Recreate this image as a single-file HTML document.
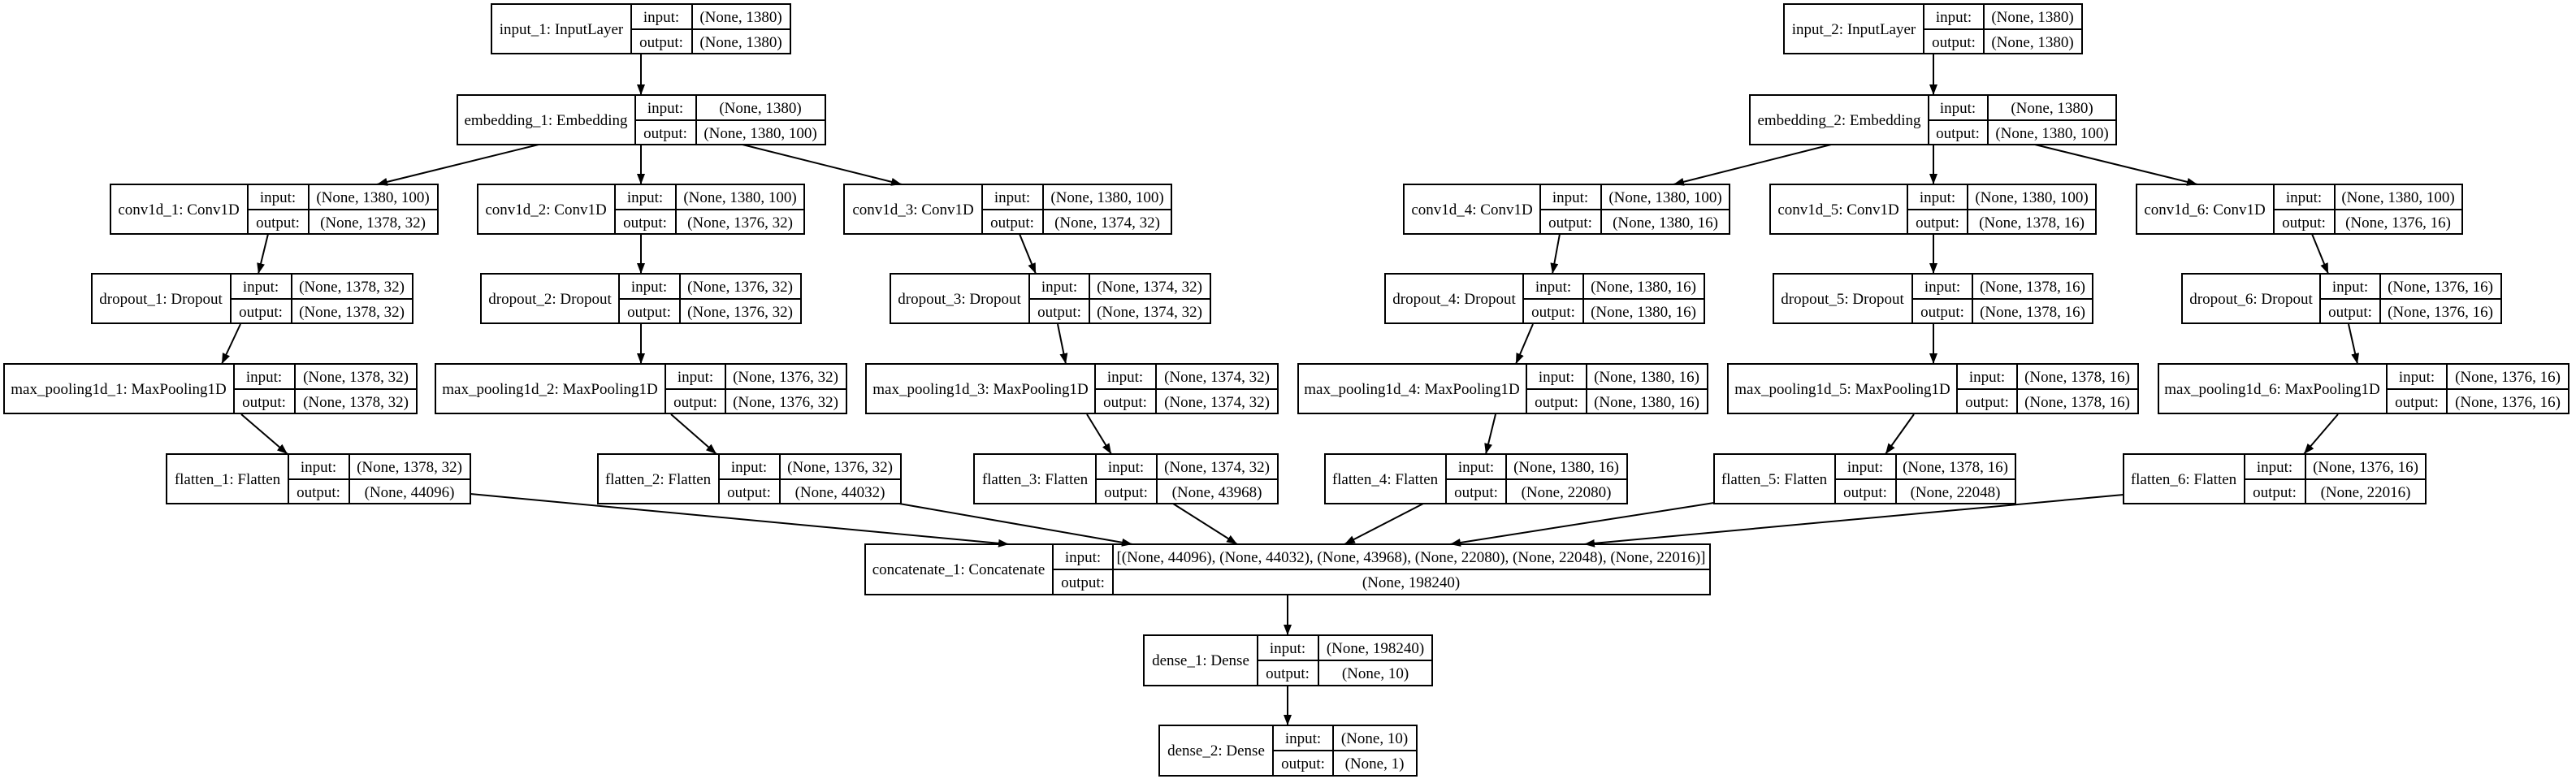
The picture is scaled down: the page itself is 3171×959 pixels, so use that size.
<!DOCTYPE html>
<html><head><meta charset="utf-8"><style>
html,body{margin:0;padding:0;background:#fff;}
svg{display:block;}
svg text{font-family:"Liberation Serif","DejaVu Serif",serif !important;font-size:19px;fill:#000;text-anchor:middle;}
.b{fill:none;stroke:#000;stroke-width:2;}
.e{stroke:#000;stroke-width:2;fill:none;marker-end:url(#a);}
</style></head><body>
<svg width="3171" height="959" viewBox="0 0 3171 959" xmlns="http://www.w3.org/2000/svg" font-family="Liberation Serif, DejaVu Serif, serif" font-size="19">
<defs><marker id="a" markerUnits="userSpaceOnUse" markerWidth="14" markerHeight="12" refX="13" refY="5" orient="auto"><path d="M0,0 L13,5 L0,10 Z" fill="#000"/></marker></defs>

<!-- edges -->
<line class="e" x1="789" y1="67" x2="789" y2="117"/>
<line class="e" x1="663" y1="178" x2="464" y2="227"/>
<line class="e" x1="789" y1="178" x2="789" y2="227"/>
<line class="e" x1="914" y1="178" x2="1110" y2="227"/>
<line class="e" x1="330" y1="288" x2="318" y2="337"/>
<line class="e" x1="296" y1="399" x2="273" y2="448"/>
<line class="e" x1="297" y1="510" x2="354" y2="559"/>
<line class="e" x1="579" y1="608" x2="1242" y2="670"/>
<line class="e" x1="789" y1="288" x2="789" y2="337"/>
<line class="e" x1="789" y1="399" x2="789" y2="448"/>
<line class="e" x1="826" y1="510" x2="882" y2="559"/>
<line class="e" x1="1107" y1="620" x2="1394" y2="670"/>
<line class="e" x1="1255" y1="288" x2="1275" y2="337"/>
<line class="e" x1="1302" y1="399" x2="1312" y2="448"/>
<line class="e" x1="1338" y1="510" x2="1368" y2="559"/>
<line class="e" x1="1444" y1="620" x2="1523" y2="670"/>
<line class="e" x1="1752" y1="620" x2="1655" y2="670"/>
<line class="e" x1="2110" y1="619" x2="1785" y2="670"/>
<line class="e" x1="2614" y1="609" x2="1950" y2="670"/>
<line class="e" x1="2380" y1="67" x2="2380" y2="117"/>
<line class="e" x1="2254" y1="178" x2="2060" y2="227"/>
<line class="e" x1="2380" y1="178" x2="2380" y2="227"/>
<line class="e" x1="2505" y1="178" x2="2705" y2="227"/>
<line class="e" x1="1920" y1="288" x2="1911" y2="337"/>
<line class="e" x1="2380" y1="288" x2="2380" y2="337"/>
<line class="e" x1="2846" y1="288" x2="2866" y2="337"/>
<line class="e" x1="1887" y1="399" x2="1866" y2="448"/>
<line class="e" x1="2380" y1="399" x2="2380" y2="448"/>
<line class="e" x1="2891" y1="399" x2="2902" y2="448"/>
<line class="e" x1="1841" y1="510" x2="1829" y2="559"/>
<line class="e" x1="2356" y1="510" x2="2321" y2="559"/>
<line class="e" x1="2878" y1="510" x2="2836" y2="559"/>
<line class="e" x1="1585" y1="732" x2="1585" y2="782"/>
<line class="e" x1="1585" y1="844" x2="1585" y2="893"/>

<!-- nodes -->
<g><rect class="b" x="605" y="5" width="368" height="61"/><path class="b" d="M777,5V66M852,5V66M777,36H973"/>
<text x="691" y="42">input_1: InputLayer</text><text x="814" y="27">input:</text><text x="814" y="58">output:</text><text x="912" y="27">(None, 1380)</text><text x="912" y="58">(None, 1380)</text></g>

<g><rect class="b" x="563" y="117" width="453" height="61"/><path class="b" d="M782,117V178M857,117V178M782,148H1016"/>
<text x="672" y="154">embedding_1: Embedding</text><text x="819" y="139">input:</text><text x="819" y="170">output:</text><text x="936" y="139">(None, 1380)</text><text x="936" y="170">(None, 1380, 100)</text></g>

<g><rect class="b" x="136" y="227" width="403" height="61"/><path class="b" d="M305,227V288M380,227V288M305,258H539"/>
<text x="220" y="264">conv1d_1: Conv1D</text><text x="342" y="249">input:</text><text x="342" y="280">output:</text><text x="459" y="249">(None, 1380, 100)</text><text x="459" y="280">(None, 1378, 32)</text></g>

<g><rect class="b" x="588" y="227" width="402" height="61"/><path class="b" d="M757,227V288M832,227V288M757,258H990"/>
<text x="672" y="264">conv1d_2: Conv1D</text><text x="794" y="249">input:</text><text x="794" y="280">output:</text><text x="911" y="249">(None, 1380, 100)</text><text x="911" y="280">(None, 1376, 32)</text></g>

<g><rect class="b" x="1039" y="227" width="403" height="61"/><path class="b" d="M1209,227V288M1284,227V288M1209,258H1442"/>
<text x="1124" y="264">conv1d_3: Conv1D</text><text x="1246" y="249">input:</text><text x="1246" y="280">output:</text><text x="1363" y="249">(None, 1380, 100)</text><text x="1363" y="280">(None, 1374, 32)</text></g>

<g><rect class="b" x="113" y="337" width="395" height="61"/><path class="b" d="M284,337V398M359,337V398M284,368H508"/>
<text x="198" y="374">dropout_1: Dropout</text><text x="321" y="359">input:</text><text x="321" y="390">output:</text><text x="433" y="359">(None, 1378, 32)</text><text x="433" y="390">(None, 1378, 32)</text></g>

<g><rect class="b" x="592" y="337" width="394" height="61"/><path class="b" d="M762,337V398M837,337V398M762,368H986"/>
<text x="677" y="374">dropout_2: Dropout</text><text x="799" y="359">input:</text><text x="799" y="390">output:</text><text x="911" y="359">(None, 1376, 32)</text><text x="911" y="390">(None, 1376, 32)</text></g>

<g><rect class="b" x="1096" y="337" width="394" height="61"/><path class="b" d="M1267,337V398M1341,337V398M1267,368H1490"/>
<text x="1181" y="374">dropout_3: Dropout</text><text x="1304" y="359">input:</text><text x="1304" y="390">output:</text><text x="1415" y="359">(None, 1374, 32)</text><text x="1415" y="390">(None, 1374, 32)</text></g>

<g><rect class="b" x="5" y="448" width="508" height="61"/><path class="b" d="M288,448V509M363,448V509M288,479H513"/>
<text x="146" y="485">max_pooling1d_1: MaxPooling1D</text><text x="325" y="470">input:</text><text x="325" y="501">output:</text><text x="438" y="470">(None, 1378, 32)</text><text x="438" y="501">(None, 1378, 32)</text></g>

<g><rect class="b" x="536" y="448" width="506" height="61"/><path class="b" d="M819,448V509M893,448V509M819,479H1042"/>
<text x="677" y="485">max_pooling1d_2: MaxPooling1D</text><text x="856" y="470">input:</text><text x="856" y="501">output:</text><text x="967" y="470">(None, 1376, 32)</text><text x="967" y="501">(None, 1376, 32)</text></g>

<g><rect class="b" x="1066" y="448" width="507" height="61"/><path class="b" d="M1348,448V509M1423,448V509M1348,479H1573"/>
<text x="1207" y="485">max_pooling1d_3: MaxPooling1D</text><text x="1385" y="470">input:</text><text x="1385" y="501">output:</text><text x="1498" y="470">(None, 1374, 32)</text><text x="1498" y="501">(None, 1374, 32)</text></g>

<g><rect class="b" x="205" y="559" width="374" height="61"/><path class="b" d="M355,559V620M430,559V620M355,590H579"/>
<text x="280" y="596">flatten_1: Flatten</text><text x="392" y="581">input:</text><text x="392" y="612">output:</text><text x="504" y="581">(None, 1378, 32)</text><text x="504" y="612">(None, 44096)</text></g>

<g><rect class="b" x="736" y="559" width="373" height="61"/><path class="b" d="M885,559V620M960,559V620M885,590H1109"/>
<text x="810" y="596">flatten_2: Flatten</text><text x="922" y="581">input:</text><text x="922" y="612">output:</text><text x="1034" y="581">(None, 1376, 32)</text><text x="1034" y="612">(None, 44032)</text></g>

<g><rect class="b" x="1199" y="559" width="374" height="61"/><path class="b" d="M1349,559V620M1424,559V620M1349,590H1573"/>
<text x="1274" y="596">flatten_3: Flatten</text><text x="1386" y="581">input:</text><text x="1386" y="612">output:</text><text x="1498" y="581">(None, 1374, 32)</text><text x="1498" y="612">(None, 43968)</text></g>

<g><rect class="b" x="2196" y="5" width="367" height="61"/><path class="b" d="M2368,5V66M2442,5V66M2368,36H2563"/>
<text x="2282" y="42">input_2: InputLayer</text><text x="2405" y="27">input:</text><text x="2405" y="58">output:</text><text x="2502" y="27">(None, 1380)</text><text x="2502" y="58">(None, 1380)</text></g>

<g><rect class="b" x="2154" y="117" width="451" height="61"/><path class="b" d="M2374,117V178M2447,117V178M2374,148H2605"/>
<text x="2264" y="154">embedding_2: Embedding</text><text x="2410" y="139">input:</text><text x="2410" y="170">output:</text><text x="2526" y="139">(None, 1380)</text><text x="2526" y="170">(None, 1380, 100)</text></g>

<g><rect class="b" x="1728" y="227" width="401" height="61"/><path class="b" d="M1896,227V288M1971,227V288M1896,258H2129"/>
<text x="1812" y="264">conv1d_4: Conv1D</text><text x="1933" y="249">input:</text><text x="1933" y="280">output:</text><text x="2050" y="249">(None, 1380, 100)</text><text x="2050" y="280">(None, 1380, 16)</text></g>

<g><rect class="b" x="2179" y="227" width="401" height="61"/><path class="b" d="M2348,227V288M2422,227V288M2348,258H2580"/>
<text x="2263" y="264">conv1d_5: Conv1D</text><text x="2385" y="249">input:</text><text x="2385" y="280">output:</text><text x="2501" y="249">(None, 1380, 100)</text><text x="2501" y="280">(None, 1378, 16)</text></g>

<g><rect class="b" x="2630" y="227" width="401" height="61"/><path class="b" d="M2799,227V288M2874,227V288M2799,258H3031"/>
<text x="2714" y="264">conv1d_6: Conv1D</text><text x="2836" y="249">input:</text><text x="2836" y="280">output:</text><text x="2952" y="249">(None, 1380, 100)</text><text x="2952" y="280">(None, 1376, 16)</text></g>

<g><rect class="b" x="1705" y="337" width="393" height="61"/><path class="b" d="M1875,337V398M1949,337V398M1875,368H2098"/>
<text x="1790" y="374">dropout_4: Dropout</text><text x="1912" y="359">input:</text><text x="1912" y="390">output:</text><text x="2023" y="359">(None, 1380, 16)</text><text x="2023" y="390">(None, 1380, 16)</text></g>

<g><rect class="b" x="2183" y="337" width="393" height="61"/><path class="b" d="M2354,337V398M2428,337V398M2354,368H2576"/>
<text x="2268" y="374">dropout_5: Dropout</text><text x="2391" y="359">input:</text><text x="2391" y="390">output:</text><text x="2502" y="359">(None, 1378, 16)</text><text x="2502" y="390">(None, 1378, 16)</text></g>

<g><rect class="b" x="2686" y="337" width="393" height="61"/><path class="b" d="M2856,337V398M2930,337V398M2856,368H3079"/>
<text x="2771" y="374">dropout_6: Dropout</text><text x="2893" y="359">input:</text><text x="2893" y="390">output:</text><text x="3004" y="359">(None, 1376, 16)</text><text x="3004" y="390">(None, 1376, 16)</text></g>

<g><rect class="b" x="1598" y="448" width="504" height="61"/><path class="b" d="M1879,448V509M1953,448V509M1879,479H2102"/>
<text x="1738" y="485">max_pooling1d_4: MaxPooling1D</text><text x="1916" y="470">input:</text><text x="1916" y="501">output:</text><text x="2027" y="470">(None, 1380, 16)</text><text x="2027" y="501">(None, 1380, 16)</text></g>

<g><rect class="b" x="2127" y="448" width="505" height="61"/><path class="b" d="M2409,448V509M2483,448V509M2409,479H2632"/>
<text x="2268" y="485">max_pooling1d_5: MaxPooling1D</text><text x="2446" y="470">input:</text><text x="2446" y="501">output:</text><text x="2557" y="470">(None, 1378, 16)</text><text x="2557" y="501">(None, 1378, 16)</text></g>

<g><rect class="b" x="2657" y="448" width="505" height="61"/><path class="b" d="M2938,448V509M3012,448V509M2938,479H3162"/>
<text x="2797" y="485">max_pooling1d_6: MaxPooling1D</text><text x="2975" y="470">input:</text><text x="2975" y="501">output:</text><text x="3087" y="470">(None, 1376, 16)</text><text x="3087" y="501">(None, 1376, 16)</text></g>

<g><rect class="b" x="1631" y="559" width="372" height="61"/><path class="b" d="M1780,559V620M1854,559V620M1780,590H2003"/>
<text x="1705" y="596">flatten_4: Flatten</text><text x="1817" y="581">input:</text><text x="1817" y="612">output:</text><text x="1928" y="581">(None, 1380, 16)</text><text x="1928" y="612">(None, 22080)</text></g>

<g><rect class="b" x="2110" y="559" width="371" height="61"/><path class="b" d="M2259,559V620M2334,559V620M2259,590H2481"/>
<text x="2184" y="596">flatten_5: Flatten</text><text x="2296" y="581">input:</text><text x="2296" y="612">output:</text><text x="2407" y="581">(None, 1378, 16)</text><text x="2407" y="612">(None, 22048)</text></g>

<g><rect class="b" x="2614" y="559" width="372" height="61"/><path class="b" d="M2763,559V620M2838,559V620M2763,590H2986"/>
<text x="2688" y="596">flatten_6: Flatten</text><text x="2800" y="581">input:</text><text x="2800" y="612">output:</text><text x="2912" y="581">(None, 1376, 16)</text><text x="2912" y="612">(None, 22016)</text></g>

<g><rect class="b" x="1065" y="670" width="1040" height="62"/><path class="b" d="M1296,670V732M1370,670V732M1296,701H2105"/>
<text x="1180" y="707">concatenate_1: Concatenate</text><text x="1333" y="692">input:</text><text x="1333" y="723">output:</text><text x="1737" y="692">[(None, 44096), (None, 44032), (None, 43968), (None, 22080), (None, 22048), (None, 22016)]</text><text x="1737" y="723">(None, 198240)</text></g>

<g><rect class="b" x="1408" y="782" width="355" height="62"/><path class="b" d="M1548,782V844M1623,782V844M1548,813H1763"/>
<text x="1478" y="819">dense_1: Dense</text><text x="1585" y="804">input:</text><text x="1585" y="835">output:</text><text x="1693" y="804">(None, 198240)</text><text x="1693" y="835">(None, 10)</text></g>

<g><rect class="b" x="1427" y="893" width="317" height="62"/><path class="b" d="M1567,893V955M1641,893V955M1567,924H1744"/>
<text x="1497" y="930">dense_2: Dense</text><text x="1604" y="915">input:</text><text x="1604" y="946">output:</text><text x="1692" y="915">(None, 10)</text><text x="1692" y="946">(None, 1)</text></g>
</svg>
</body></html>
